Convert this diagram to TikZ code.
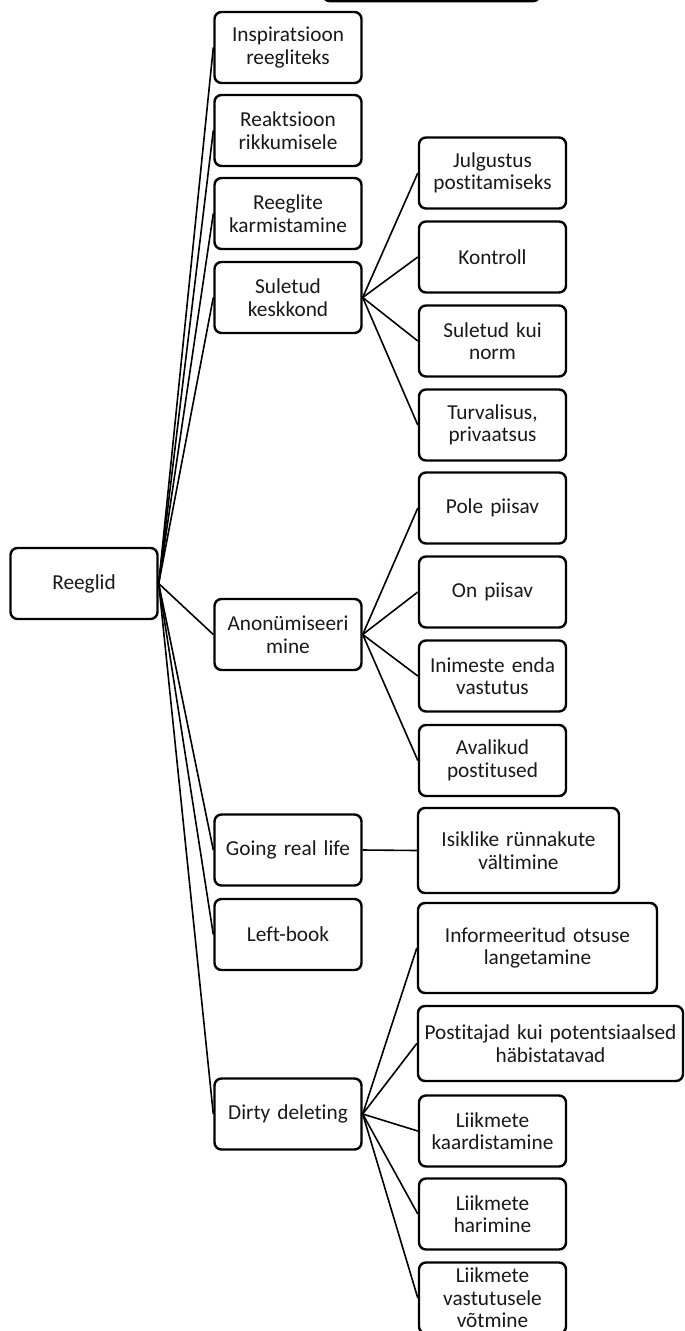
\documentclass[tikz,border=0pt]{standalone}
\usepackage{fontspec}
\setmainfont{Carlito}[Ligatures=NoCommon]
\begin{document}
\begin{tikzpicture}[x=1pt,y=-1pt,
  box/.style={draw=black, line width=2.4pt, rounded corners=7pt, fill=white,
    align=center, inner sep=2pt, font=\fontsize{21.3}{22.5}\selectfont, text=black!90},
  lone/.style={box, minimum width=147pt, minimum height=71pt, text width=143pt},
  link/.style={draw=black, line width=1.6pt}]
\useasboundingbox (0,0) rectangle (685,1331);
\clip (0,0) rectangle (685,1331);
% partially visible box at the top
\draw[line width=2.4pt, rounded corners=7pt] (323,-80) rectangle (540,1.2);
% root
\node[lone] (root) at (84,583.5) {Reeglid};
% level 1
\node[lone] (a1) at (288,47.5) {Inspiratsioon\\reegliteks};
\node[lone] (a2) at (288,130.5) {Reaktsioon\\rikkumisele};
\node[lone] (a3) at (288,213.5) {Reeglite\\karmistamine};
\node[lone] (a4) at (288,297.5) {Suletud\\keskkond};
\node[lone] (a5) at (288,634.5) {Anonümiseeri\\mine};
\node[lone] (a6) at (288,850) {Going real life};
\node[lone] (a7) at (288,934.5) {Left-book};
\node[lone] (a8) at (288,1114) {Dirty deleting};
% level 2 under Suletud keskkond
\node[lone] (b1) at (492.5,173) {Julgustus\\postitamiseks};
\node[lone] (b2) at (492.5,257) {Kontroll};
\node[lone] (b3) at (492.5,341) {Suletud kui\\norm};
\node[lone] (b4) at (492.5,425) {Turvalisus,\\privaatsus};
% level 2 under Anonümiseeri mine
\node[lone] (c1) at (492.5,508) {Pole piisav};
\node[lone] (c2) at (492.5,592) {On piisav};
\node[lone] (c3) at (492.5,676) {Inimeste enda\\vastutus};
\node[lone] (c4) at (492.5,760.5) {Avalikud\\postitused};
% level 2 under Going real life
\node[box, minimum width=201pt, minimum height=85pt, text width=197pt] (d1) at (518.5,850.5) {Isiklike rünnakute\\vältimine};
% level 2 under Dirty deleting
\node[box, minimum width=239pt, minimum height=90pt, text width=235pt] (e1) at (537.5,948) {Informeeritud otsuse\\langetamine};
\node[box, minimum width=265pt, minimum height=75pt, text width=261pt] (e2) at (550.5,1043.5) {Postitajad kui potentsiaalsed\\häbistatavad};
\node[lone] (e3) at (492.5,1131) {Liikmete\\kaardistamine};
\node[lone] (e4) at (492.5,1214) {Liikmete\\harimine};
\node[lone] (e5) at (492.5,1298) {Liikmete\\vastutusele\\võtmine};
% connectors
\foreach \n in {a1,a2,a3,a4,a5,a6,a7,a8}
  \draw[link] (root.east) -- (\n.west);
\foreach \n in {b1,b2,b3,b4}
  \draw[link] (a4.east) -- (\n.west);
\foreach \n in {c1,c2,c3,c4}
  \draw[link] (a5.east) -- (\n.west);
\draw[link] (a6.east) -- (d1.west);
\foreach \n in {e1,e2,e3,e4,e5}
  \draw[link] (a8.east) -- (\n.west);
\end{tikzpicture}
\end{document}
